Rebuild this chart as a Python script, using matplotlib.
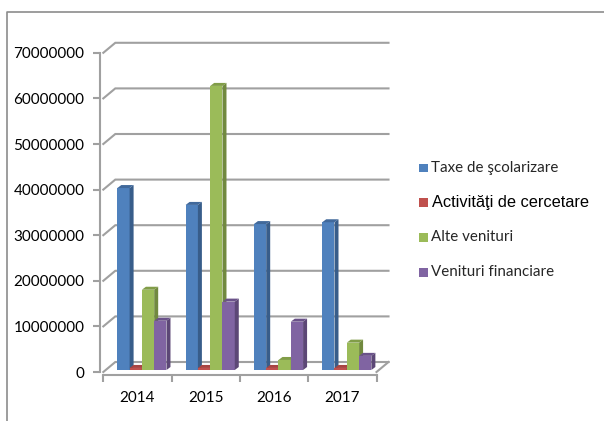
import numpy as np
import matplotlib.pyplot as plt
from matplotlib.patches import Polygon, Rectangle

years = ['2014', '2015', '2016', '2017']
series = ['Taxe de şcolarizare', 'Activităţi de cercetare', 'Alte venituri', 'Venituri financiare']
taxe = [39900000, 36200000, 32000000, 32400000]
cercetare = [450000, 450000, 450000, 450000]
alte = [17600000, 62300000, 2200000, 6000000]
financiare = [10800000, 15000000, 10600000, 3100000]
values = [taxe, cercetare, alte, financiare]

front = ['#4f81bd', '#c0504d', '#9bbb59', '#8064a2']
side = ['#385d8a', '#8c3836', '#71893f', '#5c4776']
topc = ['#41699b', '#a84442', '#819d48', '#6a5289']

W, H = 604, 421
fig = plt.figure(figsize=(W / 100, H / 100), dpi=100)

# pixel mapping of the front plane
px_cat = 68.3
px_val = 45.6 / 1e7
x0_px, y0_px = 103.3, 372.0
dx = 12 / px_cat          # depth offset of back wall
dy = 10 / px_val
sdx = 4 / px_cat           # bar depth
sdy = 3 / px_val

xmin, xmax = -0.05, 4 + dx + 0.05
ymin, ymax = -0.6e6, 70e6 + dy + 0.6e6
left = (x0_px + xmin * px_cat) / W
width = (xmax - xmin) * px_cat / W
bottom = (H - y0_px + ymin * px_val) / H
height = (ymax - ymin) * px_val / H
ax = fig.add_axes([left, bottom, width, height])
ax.set_xlim(xmin, xmax)
ax.set_ylim(ymin, ymax)
ax.patch.set_alpha(0)

grid = '#a0a0a0'
yt = np.arange(0, 70e6 + 1, 1e7)
for y in yt:
    ax.plot([0, dx, 4 + dx], [y, y + dy, y + dy], color=grid, lw=1.5, zorder=1,
            solid_joinstyle='miter')
ax.plot([4, 4 + dx], [0, dy], color=grid, lw=1.5, zorder=1)

for s in ['top', 'right']:
    ax.spines[s].set_visible(False)
ax.spines['left'].set_bounds(0, 70e6)
ax.spines['bottom'].set_bounds(0, 4)
for s in ['left', 'bottom']:
    ax.spines[s].set_color(grid)
    ax.spines[s].set_linewidth(1.5)
    ax.spines[s].set_zorder(1)

ax.set_yticks(yt)
ax.set_yticklabels([f'{int(v)}' for v in yt])
ax.set_xticks(np.arange(5))
ax.set_xticklabels([])
ax.set_xticks(np.arange(4) + 0.5, minor=True)
ax.set_xticklabels(years, minor=True)
ax.tick_params(axis='both', which='major', color=grid, width=1.5, length=5)
ax.tick_params(axis='y', labelsize=11, pad=6)
ax.tick_params(axis='x', which='minor', length=0, labelsize=11, pad=12)
for lab in ax.get_yticklabels() + ax.get_xticklabels(minor=True):
    lab.set_family('Lato')

bw = 0.18
start = 0.205
base = 0.2 * dy
for i in range(len(years)):
    for j in range(len(series)):
        v = values[j][i]
        x = i + start + j * bw
        ax.bar(x, v, width=bw, bottom=base, align='edge', color=front[j],
               edgecolor='none', zorder=3)
        t = base + v
        ax.add_patch(Polygon([(x + bw, base), (x + bw, t), (x + bw + sdx, t + sdy),
                              (x + bw + sdx, base + sdy)], closed=True,
                             facecolor=side[j], edgecolor='none', zorder=3))
        ax.add_patch(Polygon([(x, t), (x + bw, t), (x + bw + sdx, t + sdy),
                              (x + sdx, t + sdy)], closed=True,
                             facecolor=topc[j], edgecolor='none', zorder=3))

# legend
rows = [168, 202, 237, 272]
for j, name in enumerate(series):
    y = rows[j]
    fig.add_artist(Rectangle((419 / W, 1 - (y + 4.5) / H), 9 / W, 9 / H,
                             transform=fig.transFigure, facecolor=front[j],
                             edgecolor='none'))
    if j == 1:
        fig.text(432 / W, 1 - y / H, name, fontsize=11.8, family='Liberation Sans',
                 color='black', va='center')
    else:
        fig.text(431 / W, 1 - y / H, name, fontsize=10.9, family='Lato',
                 color='#262626', va='center')

# chart frame
fig.add_artist(plt.Line2D([7 / W, 7 / W, 1], [0, 1 - 12 / H, 1 - 12 / H],
                          transform=fig.transFigure, color='#8c8c8c', lw=1.2))

fig.savefig('out.png', dpi=100)
